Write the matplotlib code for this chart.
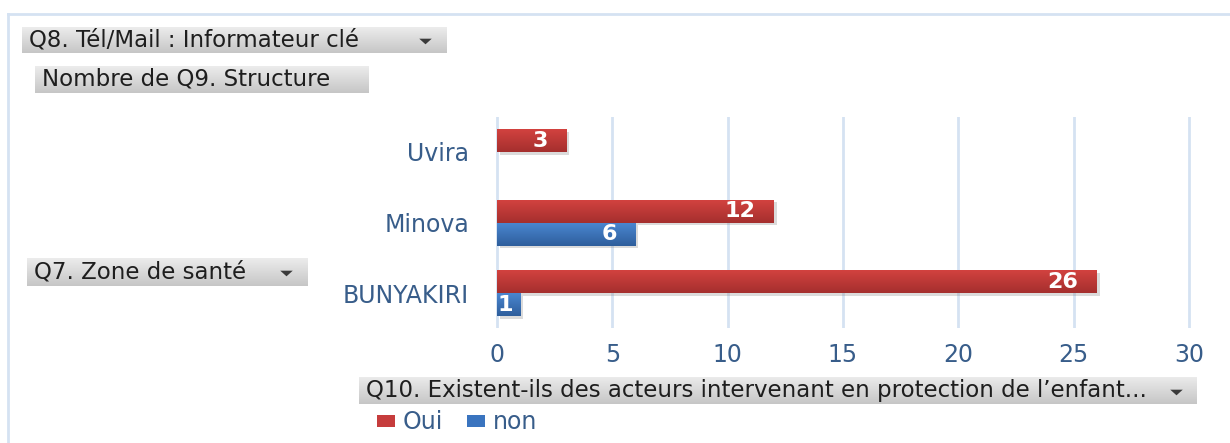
import numpy as np
import matplotlib
matplotlib.use("Agg")
import matplotlib.pyplot as plt
from matplotlib.patches import Patch
from matplotlib.lines import Line2D
from matplotlib.colors import LinearSegmentedColormap
import matplotlib.patheffects as pe

# data
zones = ["BUNYAKIRI", "Minova", "Uvira"]
oui = [26, 12, 3]
non = [1, 6, 0]
series_names = ["Oui", "non"]
x_ticks = [0, 5, 10, 15, 20, 25, 30]

W, H = 1230, 443
plt.rcParams['font.family'] = ['DejaVu Sans']

def frect(x0, y0, x1, y1):
    return [x0 / W, 1 - y1 / H, (x1 - x0) / W, (y1 - y0) / H]

red_cm = LinearSegmentedColormap.from_list("r", ["#d2423f", "#a52f2e"])
blue_cm = LinearSegmentedColormap.from_list("b", ["#4a86d0", "#2e5e9c"])
grey_cm = LinearSegmentedColormap.from_list("g", ["#ececec", "#c6c6c6"])
grad = np.linspace(0, 1, 64).reshape(-1, 1)
tri = [(-1, 0.45), (1, 0.45), (0, -0.45), (-1, 0.45)]

fig = plt.figure(figsize=(W / 100, H / 100), dpi=100)
fig.patch.set_facecolor("white")

# outer frame
border = "#d5e2f2"
fig.add_artist(Line2D([8 / W, 1], [1 - 14 / H, 1 - 14 / H], transform=fig.transFigure, color=border, lw=2))
fig.add_artist(Line2D([8 / W, 8 / W], [0, 1 - 14 / H], transform=fig.transFigure, color=border, lw=2))

# main chart
ax = fig.add_axes(frect(494.7, 117, 1191.3, 328))
y = np.arange(len(zones))
h = 0.325
b_oui = ax.barh(y + h / 2, oui, height=h, color="#c33b3a", zorder=3)
b_non = ax.barh(y - h / 2, non, height=h, color="#3a72bb", zorder=3)

shadow = [pe.SimplePatchShadow(offset=(2, -2), shadow_rgbFace="#888888", alpha=0.3), pe.Normal()]
for bars, cm in [(b_oui, red_cm), (b_non, blue_cm)]:
    for r in bars:
        if r.get_width() <= 0:
            continue
        r.set_path_effects(shadow)
        x0, y0, w, hh = r.get_x(), r.get_y(), r.get_width(), r.get_height()
        im = ax.imshow(grad, cmap=cm, extent=[x0, x0 + w, y0, y0 + hh], aspect="auto",
                       origin="upper", zorder=4)
        im.set_clip_path(r)
        px = w * 23.07
        yc = y0 + hh / 2
        if px > 35:
            ax.annotate(str(int(w)), (x0 + w, yc), xytext=(-13.5, 0), textcoords="offset points",
                        ha="right", va="center", color="white", fontsize=16, fontweight="bold", zorder=5)
        else:
            ax.annotate(str(int(w)), (x0, yc), xytext=(0.5, 0), textcoords="offset points",
                        ha="left", va="center", color="white", fontsize=16, fontweight="bold", zorder=5)

ax.set_xlim(-0.1, 30.1)
ax.set_ylim(-0.49, 2.495)
ax.set_xticks(x_ticks)
ax.set_yticks(y)
ax.set_yticklabels(zones)
ax.grid(axis="x", color=border, lw=2, zorder=0)
ax.grid(axis="y", visible=False)
ax.set_axisbelow(True)
for s in ax.spines.values():
    s.set_visible(False)
ax.tick_params(axis="y", length=0, pad=18.5, labelsize=17, labelcolor="#385d8a")
ax.tick_params(axis="x", length=0, pad=10.5, labelsize=17, labelcolor="#385d8a")
ax.set_facecolor("none")

# grey field buttons
def field_box(x0, y0, x1, y1, label, tx, arrow_x=None):
    bx = fig.add_axes(frect(x0, y0, x1, y1))
    bx.imshow(grad, cmap=grey_cm, extent=[0, 1, 0, 1], aspect="auto", origin="upper")
    bx.set_xlim(0, 1)
    bx.set_ylim(0, 1)
    bx.axis("off")
    bx.text((tx - x0) / (x1 - x0), 0.5, label, ha="left", va="center", fontsize=16.5, color="#1e1e1e")
    if arrow_x is not None:
        bx.plot([(arrow_x - x0) / (x1 - x0)], [0.46], marker=tri, markersize=9, color="#3a3a3a",
                markeredgewidth=0)

field_box(22, 27, 447, 53, "Q8. Tél/Mail : Informateur clé", 29, 425)
field_box(35, 66, 369, 93, "Nombre de Q9. Structure", 42)
field_box(27, 258, 308, 286, "Q7. Zone de santé", 34, 286)
field_box(359, 377, 1197, 404, "Q10. Existent-ils des acteurs intervenant en protection de l\u2019enfant...", 366, 1176)

handles = [Patch(facecolor="#c63c3c"), Patch(facecolor="#3a74bf")]
fig.legend(handles, series_names, loc="center left", bbox_to_anchor=(377 / W, 1 - 422 / H),
           frameon=False, ncol=2, fontsize=17, handlelength=0.75, handleheight=0.4,
           handletextpad=0.35, columnspacing=1.0, borderpad=0, borderaxespad=0, labelcolor="#385d8a")

fig.savefig("out.png", dpi=100)
